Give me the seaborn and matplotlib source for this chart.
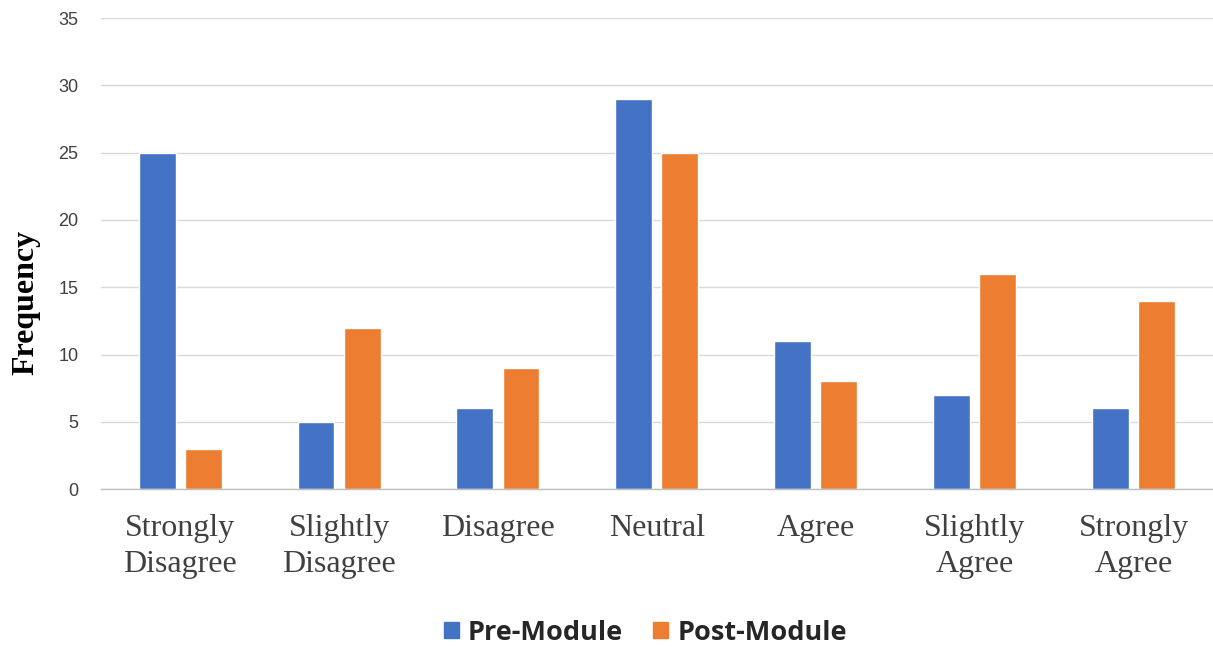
import matplotlib
matplotlib.use("Agg")
import matplotlib.pyplot as plt
import seaborn as sns
import pandas as pd

categories = ["Strongly\nDisagree", "Slightly\nDisagree", "Disagree", "Neutral",
              "Agree", "Slightly\nAgree", "Strongly\nAgree"]
pre_module = [25, 5, 6, 29, 11, 7, 6]
post_module = [3, 12, 9, 25, 8, 16, 14]
series_names = ["Pre-Module", "Post-Module"]
y_ticks = [0, 5, 10, 15, 20, 25, 30, 35]

df = pd.DataFrame({
    "Category": categories * 2,
    "Frequency": pre_module + post_module,
    "Series": [series_names[0]] * len(categories) + [series_names[1]] * len(categories),
})

sns.set_theme(style="white")
fig = plt.figure(figsize=(12.13, 6.47), dpi=100)
ax = fig.add_axes([0.083, 0.244, 0.917, 0.728])

sns.barplot(data=df, x="Category", y="Frequency", hue="Series",
            palette=["#4472C4", "#ED7D31"], width=0.58, gap=0.2,
            order=categories, hue_order=series_names, ax=ax, saturation=1,
            legend=True)

ax.set_ylim(0, 35)
ax.set_xlim(-0.5, 6.5)
ax.set_yticks(y_ticks)
ax.yaxis.grid(True, color="#D9D9D9", linewidth=1)
ax.set_axisbelow(True)
for s in ["top", "right", "left"]:
    ax.spines[s].set_visible(False)
ax.spines["bottom"].set_color("#BFBFBF")
ax.spines["bottom"].set_linewidth(1)

ax.tick_params(axis="y", length=0, pad=16, labelsize=13, colors="#404040")
for lab in ax.get_yticklabels():
    lab.set_family("Liberation Sans")
ax.tick_params(axis="x", length=0, pad=18)
ax.set_xticks(range(len(categories)))
ax.set_xticklabels(categories, family="Liberation Serif", fontsize=23,
                   color="#404040", linespacing=1.3)

ax.set_xlabel("")
ax.set_ylabel("Frequency", family="Liberation Serif", fontsize=23,
              fontweight="bold", color="black")
ax.yaxis.set_label_coords(-0.054, 0.397)

ax.legend_.remove()
handles = [plt.Rectangle((0, 0), 1, 1, color=c) for c in ["#4472C4", "#ED7D31"]]
fig.legend(handles, series_names, loc="center", bbox_to_anchor=(0.532, 0.022),
           ncol=2, frameon=False, handlelength=0.55, handleheight=0.55,
           columnspacing=1.1, handletextpad=0.35,
           prop={"family": "Open Sans", "weight": "bold", "size": 19.5})

fig.savefig("out.png", dpi=100)
